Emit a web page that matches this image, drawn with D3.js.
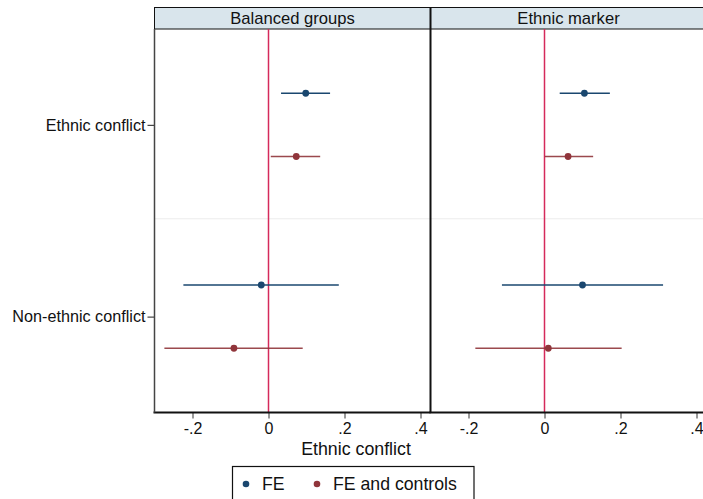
<!DOCTYPE html>
<html>
<head>
<meta charset="utf-8">
<script src="https://cdn.jsdelivr.net/npm/d3@7"></script>
<style>
  html, body { margin: 0; padding: 0; background: #fff; }
  svg { display: block; font-family: "Liberation Sans", Arial, sans-serif; }
</style>
</head>
<body>
<svg id="chart" width="703" height="499"></svg>
<script>
// Coefficient plot: two panels, two outcome rows, two model specifications.
const panels = ["Balanced groups", "Ethnic marker"];
const outcomes = ["Ethnic conflict", "Non-ethnic conflict"];
const seriesNames = ["FE", "FE and controls"];
const seriesColors = ["#1a476f", "#90353b"];
const xTicks = [-0.2, 0, 0.2, 0.4];
const xTickLabels = ["-.2", "0", ".2", ".4"];

// [panel][outcome] -> estimate, lower, upper
const feEstimates = [
  [{ b: 0.098, lo: 0.033, hi: 0.162 }, { b: -0.019, lo: -0.224, hi: 0.185 }],
  [{ b: 0.105, lo: 0.040, hi: 0.172 }, { b: 0.100, lo: -0.112, hi: 0.312 }]
];
const feControlsEstimates = [
  [{ b: 0.073, lo: 0.006, hi: 0.136 }, { b: -0.091, lo: -0.274, hi: 0.090 }],
  [{ b: 0.062, lo: 0.001, hi: 0.128 }, { b: 0.010, lo: -0.182, hi: 0.203 }]
];
const seriesData = [feEstimates, feControlsEstimates];
const seriesOffsets = [-0.165, 0.165];

const svg = d3.select("#chart");

const plotTop = 29, plotBottom = 412.5;
const headerTop = 7.5;
const panelWidth = 276;
const panelLefts = [154.5, 430.5];

const y = d3.scaleLinear().domain([0.5, 2.5]).range([plotTop, plotBottom]);

// faint separator between outcome groups
svg.append("line")
  .attr("x1", panelLefts[0]).attr("x2", 703)
  .attr("y1", y(1.5) - 2).attr("y2", y(1.5) - 2)
  .attr("stroke", "#ececec").attr("stroke-width", 1);

panels.forEach((name, p) => {
  const left = panelLefts[p];
  const x = d3.scaleLinear().domain([-0.3, 0.4263]).range([left, left + panelWidth]);
  const g = svg.append("g");

  // strip header
  g.append("rect")
    .attr("x", left).attr("y", headerTop)
    .attr("width", panelWidth).attr("height", plotTop - headerTop)
    .attr("fill", "#d9e5ec").attr("stroke", "#111").attr("stroke-width", 1);
  g.append("text")
    .attr("x", left + panelWidth / 2).attr("y", plotTop - 5)
    .attr("text-anchor", "middle").attr("font-size", 16.6).attr("fill", "#111")
    .text(name);

  // zero reference line
  g.append("line")
    .attr("x1", x(0)).attr("x2", x(0))
    .attr("y1", plotTop).attr("y2", plotBottom)
    .attr("stroke", "#d52a5b").attr("stroke-width", 1.5);

  // confidence intervals and point estimates
  seriesData.forEach((data, s) => {
    outcomes.forEach((o, i) => {
      const d = data[p][i];
      const yy = y(i + 1 + seriesOffsets[s]);
      g.append("line")
        .attr("x1", x(d.lo)).attr("x2", x(d.hi))
        .attr("y1", yy).attr("y2", yy)
        .attr("stroke", seriesColors[s]).attr("stroke-width", 1.3)
        .attr("stroke-opacity", s === 0 ? 1 : 0.9);
      g.append("circle")
        .attr("cx", x(d.b)).attr("cy", yy).attr("r", 3.4)
        .attr("fill", seriesColors[s]);
    });
  });

  // bottom axis
  const xAxis = d3.axisBottom(x).tickValues(xTicks)
    .tickFormat((d, i) => xTickLabels[i]).tickSize(6).tickPadding(4);
  const ax = g.append("g").attr("transform", `translate(0,${plotBottom})`).call(xAxis);
  ax.select(".domain").remove();
  ax.selectAll(".tick line").attr("stroke", "#555").attr("stroke-width", 1.2);
  ax.selectAll(".tick text").attr("font-size", 16).attr("fill", "#111")
    .attr("font-family", "Liberation Sans, Arial, sans-serif");

  g.append("line")
    .attr("x1", left - 1).attr("x2", left + panelWidth)
    .attr("y1", plotBottom).attr("y2", plotBottom)
    .attr("stroke", "#111").attr("stroke-width", 2);

  // panel side borders
  if (p > 0) {
    g.append("line")
      .attr("x1", left).attr("x2", left)
      .attr("y1", headerTop).attr("y2", plotBottom)
      .attr("stroke", "#111").attr("stroke-width", 2);
  }
});

// left category axis
const yAxis = d3.axisLeft(y).tickValues([1, 2])
  .tickFormat((d) => outcomes[d - 1]).tickSize(7).tickPadding(2);
const ay = svg.append("g").attr("transform", `translate(${panelLefts[0]},0)`).call(yAxis);
ay.select(".domain").remove();
ay.selectAll(".tick line").attr("stroke", "#444").attr("stroke-width", 1.2);
ay.selectAll(".tick text").attr("font-size", 16.2).attr("fill", "#111")
  .attr("font-family", "Liberation Sans, Arial, sans-serif");
svg.append("line")
  .attr("x1", panelLefts[0]).attr("x2", panelLefts[0])
  .attr("y1", plotTop).attr("y2", plotBottom)
  .attr("stroke", "#444").attr("stroke-width", 1.5);

// axis title
svg.append("text")
  .attr("x", 356).attr("y", 455)
  .attr("text-anchor", "middle").attr("font-size", 17.8).attr("fill", "#111")
  .text("Ethnic conflict");

// legend
const legend = svg.append("g");
legend.append("rect")
  .attr("x", 232.5).attr("y", 466.5).attr("width", 241.5).attr("height", 40)
  .attr("fill", "#fff").attr("stroke", "#111").attr("stroke-width", 1.2);
const legendX = [246, 317];
seriesNames.forEach((n, s) => {
  legend.append("circle")
    .attr("cx", legendX[s]).attr("cy", 484).attr("r", 3.3)
    .attr("fill", seriesColors[s]);
  legend.append("text")
    .attr("x", legendX[s] + 16).attr("y", 490)
    .attr("font-size", 17.7).attr("fill", "#111")
    .text(n);
});
</script>
</body>
</html>
